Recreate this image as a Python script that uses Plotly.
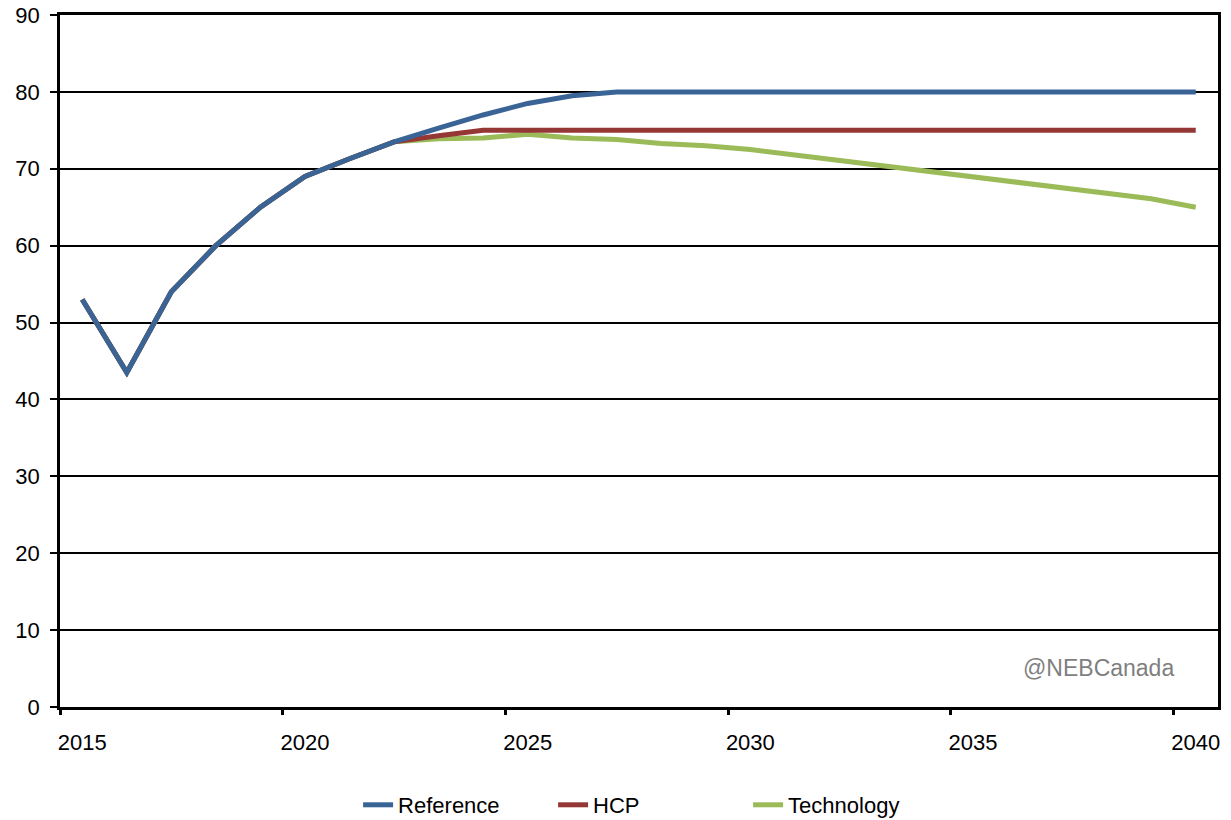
import plotly.graph_objects as go

years = list(range(2015, 2041))
reference = [53, 43.5, 54, 60, 65, 69, 71.3, 73.5, 75.3, 77, 78.5, 79.5, 80,
             80, 80, 80, 80, 80, 80, 80, 80, 80, 80, 80, 80, 80]
hcp = [53, 43.5, 54, 60, 65, 69, 71.3, 73.5, 74.3, 75, 75, 75, 75,
       75, 75, 75, 75, 75, 75, 75, 75, 75, 75, 75, 75, 75]
technology = [53, 43.5, 54, 60, 65, 69, 71.3, 73.5, 73.9, 74, 74.5, 74, 73.8,
              73.3, 73, 72.5, 71.8, 71.1, 70.4, 69.7, 69, 68.3, 67.6, 66.9, 66.1, 65]
label_years = [2015, 2020, 2025, 2030, 2035, 2040]
boundary_ticks = [y - 0.5 for y in label_years]
y_ticks = list(range(0, 91, 10))

font_family = "Liberation Sans, Arial, sans-serif"

fig = go.Figure()
fig.add_trace(go.Scatter(x=years, y=technology, name="Technology", mode="lines",
                         line=dict(color="#9BBB59", width=5)))
fig.add_trace(go.Scatter(x=years, y=hcp, name="HCP", mode="lines",
                         line=dict(color="#953735", width=5)))
fig.add_trace(go.Scatter(x=years, y=reference, name="Reference", mode="lines",
                         line=dict(color="#3A6496", width=5)))
# invisible trace to anchor the tick-mark axis
fig.add_trace(go.Scatter(x=[years[0]], y=[reference[0]], xaxis="x2", mode="lines",
                         showlegend=False, hoverinfo="skip", opacity=0))

fig.update_layout(
    width=1231, height=820,
    margin=dict(l=60, r=13, t=15, b=113, autoexpand=False),
    plot_bgcolor="white", paper_bgcolor="white",
    font=dict(family=font_family, size=22, color="black"),
    legend=dict(orientation="h", x=0.51, xanchor="center", y=-0.1416, yanchor="middle",
                traceorder="reversed", font=dict(size=22),
                entrywidthmode="pixels", entrywidth=150),
    xaxis=dict(range=[2014.5, 2040.5], tickmode="array", tickvals=label_years,
               ticktext=[str(y) for y in label_years], ticks="", showgrid=False,
               showline=True, linecolor="black", linewidth=2.5, mirror=True,
               zeroline=False, ticklabelstandoff=14, automargin=False,
               ticklabeloverflow="allow"),
    xaxis2=dict(range=[2014.5, 2040.5], overlaying="x", anchor="y", side="bottom",
                tickmode="array", tickvals=boundary_ticks, showticklabels=False,
                ticks="outside", ticklen=7, tickwidth=2.5, tickcolor="black",
                showgrid=False, showline=False, zeroline=False, automargin=False),
    yaxis=dict(range=[0, 90], tickmode="array", tickvals=y_ticks,
               ticks="outside", ticklen=7, tickwidth=2, tickcolor="black",
               showgrid=True, gridcolor="black", gridwidth=1.5,
               showline=True, linecolor="black", linewidth=2.5, mirror=True,
               zeroline=False, automargin=False, ticklabelstandoff=6,
               ticklabeloverflow="allow"),
    annotations=[dict(text="@NEBCanada", xref="paper", yref="paper",
                      x=0.964, y=0.056, xanchor="right", yanchor="middle",
                      showarrow=False, font=dict(size=23, color="#7F7F7F"))],
)

fig.write_html("out.html", config={"displayModeBar": False},
               post_script="document.body.style.margin='0';document.body.style.overflow='hidden';")
